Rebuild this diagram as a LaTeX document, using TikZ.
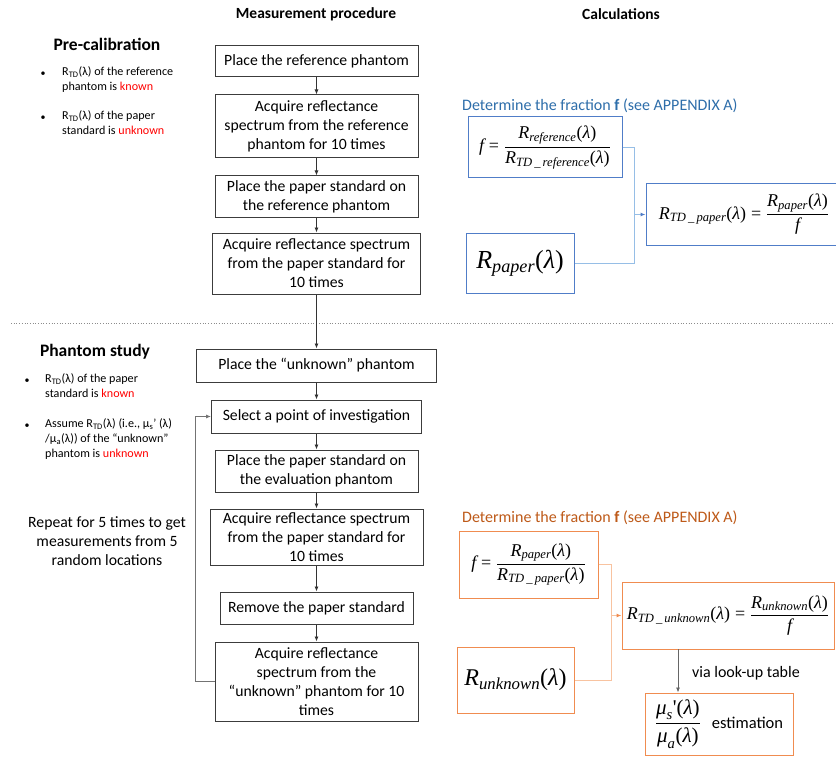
\documentclass[tikz,border=0pt]{standalone}
\usepackage{amsmath}
\usepackage{fontspec}
\setmainfont{Carlito}
\newfontfamily\tnr{Liberation Serif}
\usetikzlibrary{arrows.meta,calc}
\newcommand\ti[1]{\text{\tnr\itshape #1}}
\newcommand\tu[1]{\text{\tnr #1}}
\newcommand\lam{\tu{(}\ti{λ}\tu{)}}
\newcommand\eqq{\mathrel{\tu{=}}}
\definecolor{boxgray}{RGB}{60,60,60}
\definecolor{ttlblue}{RGB}{46,110,170}
\definecolor{ttlbrown}{RGB}{190,90,25}
\definecolor{bxblue}{RGB}{80,125,200}
\definecolor{lnblue}{RGB}{150,190,230}
\definecolor{bxorange}{RGB}{240,140,80}
\definecolor{lnorange}{RGB}{248,195,160}
\tikzset{
  proc/.style={draw=boxgray, line width=1pt, align=center, inner sep=0pt,
    font=\fontsize{15.7}{19}\selectfont},
  cblue/.style={draw=bxblue, line width=1pt, inner sep=0pt, font=\fontsize{18}{22}\selectfont},
  corange/.style={draw=bxorange, line width=1pt, inner sep=0pt, font=\fontsize{18}{22}\selectfont},
  arr/.style={-{Latex[length=5pt,width=4pt]}, line width=0.8pt, draw=black!80},
  head/.style={font=\fontsize{15.5}{19}\bfseries\selectfont},
  bighead/.style={font=\fontsize{17.5}{21}\bfseries\selectfont},
  btxt/.style={align=left, inner sep=0pt, anchor=north west, font=\fontsize{12.1}{14.8}\selectfont},
  bul/.style={inner sep=0pt, font=\fontsize{10}{12}\selectfont},
}
\begin{document}
\begin{tikzpicture}[x=1pt,y=-1pt]
\useasboundingbox[fill=white] (0,0) rectangle (836,757);

% headings
\node[head] (hmp) at (316,14) {Measurement procedure};
\node[head] (hcalc) at (621,14) {Calculations};
\node[bighead] (hpre) at (107,44) {Pre-calibration};
\node[bighead] (hph) at (95,352) {Phantom study};

% pre-calibration bullets
\node[bul] (pb1) at (43,74) {•};
\node[btxt] (pt1) at (62,66.5) {R\textsubscript{TD}(λ) of the reference\\phantom is \textcolor{red}{known}};
\node[bul] (pb2) at (43,118) {•};
\node[btxt] (pt2) at (62,110.5) {R\textsubscript{TD}(λ) of the paper\\standard is \textcolor{red}{unknown}};

% phantom study bullets
\node[bul] (sb1) at (27,381) {•};
\node[btxt] (st1) at (45,373.5) {R\textsubscript{TD}(λ) of the paper\\standard is \textcolor{red}{known}};
\node[bul] (sb2) at (27,426) {•};
\node[btxt] (st2) at (45,418.5) {Assume R\textsubscript{TD}(λ) (i.e., μ\textsubscript{s}’ (λ)\\/μ\textsubscript{a}(λ)) of the “unknown”\\phantom is \textcolor{red}{unknown}};

\node[align=center, inner sep=0pt, font=\fontsize{15.7}{19}\selectfont] (rep) at (107,541)
  {Repeat for 5 times to get\\measurements from 5\\random locations};

% procedure boxes
\node[proc, minimum width=203, minimum height=31] (b1) at (316.5,61.5) {Place the reference phantom};
\node[proc, minimum width=203, minimum height=63] (b2) at (316.5,126.5) {Acquire reflectance\\spectrum from the reference\\phantom for 10 times};
\node[proc, minimum width=203, minimum height=42] (b3) at (316.5,197) {Place the paper standard on\\the reference phantom};
\node[proc, minimum width=208, minimum height=61] (b4) at (316.5,263.5) {Acquire reflectance spectrum\\from the paper standard for\\10 times};
\node[proc, minimum width=240, minimum height=33] (b5) at (316.5,365.5) {Place the “unknown” phantom};
\node[proc, minimum width=210, minimum height=33] (b6) at (316.5,416.5) {Select a point of investigation};
\node[proc, minimum width=203, minimum height=42] (b7) at (316.5,471) {Place the paper standard on\\the evaluation phantom};
\node[proc, minimum width=213, minimum height=56] (b8) at (316.5,537) {Acquire reflectance spectrum\\from the paper standard for\\10 times};
\node[proc, minimum width=193, minimum height=32] (b9) at (316.5,608) {Remove the paper standard};
\node[proc, minimum width=203, minimum height=79] (b10) at (316.5,681.5) {Acquire reflectance\\spectrum from the\\“unknown” phantom for 10\\times};

\draw[dotted, line width=0.7pt, black!45] (11,323) -- (832,323);

\draw[arr] (b1) -- (b2);
\draw[arr] (b2) -- (b3);
\draw[arr] (b3) -- (b4);
\draw[arr] (b4) -- (b5);
\draw[arr] (b5) -- (b6);
\draw[arr] (b6) -- (b7);
\draw[arr] (b7) -- (b8);
\draw[arr] (b8) -- (b9);
\draw[arr] (b9) -- (b10);
\draw[arr, draw=black!55] (b10.west) -- ++(-19,0) |- (b6.west);

% calculations (top)
\node[anchor=west, inner sep=0pt, text=ttlblue, font=\fontsize{16}{19}\selectfont] (dt1) at (462,106)
  {Determine the fraction \textbf{f} (see APPENDIX A)};
\node[cblue, minimum width=154, minimum height=61] (cf1) at (545,147.5)
  {$\ti{f}\eqq\dfrac{\ti{R}_{\ti{reference}}\lam}{\ti{R}_{\ti{TD\,\_\,reference}}\lam}$};
\node[cblue, minimum width=108, minimum height=60, font=\fontsize{26}{30}\selectfont] (cp1) at (520,263)
  {$\ti{R}_{\ti{paper}}\lam$};
\node[cblue, minimum width=196, minimum height=61] (ctd1) at (744,214.5)
  {$\ti{R}_{\ti{TD\,\_\,paper}}\lam\eqq\dfrac{\ti{R}_{\ti{paper}}\lam}{\ti{f}}$};
\coordinate (j1) at (634,214.5);
\draw[lnblue, line width=1pt] (cf1.east) -| (j1);
\draw[lnblue, line width=1pt] (cp1.east) -| (j1);
\draw[lnblue, line width=1pt, -{Latex[length=5pt,width=4pt,color=bxblue]}] (j1) -- (ctd1.west);

% calculations (bottom)
\node[anchor=west, inner sep=0pt, text=ttlbrown, font=\fontsize{16}{19}\selectfont] (dt2) at (462,518)
  {Determine the fraction \textbf{f} (see APPENDIX A)};
\node[corange, minimum width=139, minimum height=67] (cf2) at (528.5,564.5)
  {$\ti{f}\eqq\dfrac{\ti{R}_{\ti{paper}}\lam}{\ti{R}_{\ti{TD\,\_\,paper}}\lam}$};
\node[corange, minimum width=117, minimum height=66, font=\fontsize{24}{28}\selectfont] (cu2) at (515.5,680)
  {$\ti{R}_{\ti{unknown}}\lam$};
\node[corange, minimum width=212, minimum height=67] (ctd2) at (728,615.5)
  {$\ti{R}_{\ti{TD\,\_\,unknown}}\lam\eqq\dfrac{\ti{R}_{\ti{unknown}}\lam}{\ti{f}}$};
\node[corange, minimum width=148, minimum height=62, font=\fontsize{21}{25}\selectfont] (cmu) at (719,724)
  {$\dfrac{\ti{μ}_{\ti{s}}\tu{'}\lam}{\ti{μ}_{\ti{a}}\lam}$\hspace{11pt}{\fontsize{16.5}{19}\selectfont estimation}};
\coordinate (j2) at (611,615.5);
\draw[lnorange, line width=1pt] (cf2.east) -| (j2);
\draw[lnorange, line width=1pt] (cu2.east) -| (j2);
\draw[lnorange, line width=1pt, -{Latex[length=5pt,width=4pt,color=bxorange]}] (j2) -- (ctd2.west);

\coordinate (va) at (678,649);
\draw[arr, draw=black!60] (va) -- (va |- cmu.north);
\node[anchor=west, inner sep=0pt, font=\fontsize{16}{19}\selectfont] (vlt) at (692,673) {via look-up table};
\end{tikzpicture}
\end{document}
